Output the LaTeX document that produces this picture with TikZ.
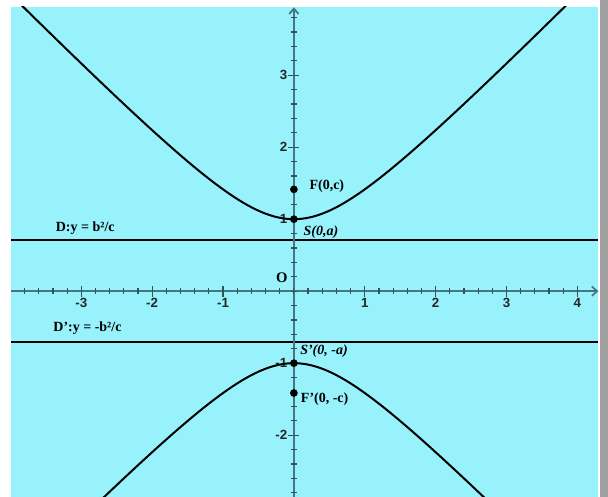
\documentclass[tikz,border=0pt]{standalone}
\usepackage{fontspec}
\setmainfont{Liberation Serif}
\newfontfamily\axfont{Liberation Sans}
\usetikzlibrary{arrows.meta}
\definecolor{bgcyan}{RGB}{152,242,252}
\definecolor{axcol}{RGB}{72,118,128}
\definecolor{barg}{RGB}{160,160,160}
\newcommand{\sq}{{\char"27}}
\begin{document}
\begin{tikzpicture}[x=53.145pt,y=54pt,
  curve/.style={line width=1.5pt,draw=black},
  dline/.style={line width=1.4pt,draw=black},
  axisline/.style={line width=1.3pt,draw=axcol,-{Straight Barb[length=4pt,width=7pt]}},
  tickline/.style={line width=0.9pt,draw=axcol!70!black},
  ticklbl/.style={font=\axfont\bfseries\fontsize{10}{11}\selectfont,text=black!85,inner sep=0pt},
  lbl/.style={font=\bfseries\fontsize{10.5}{12}\selectfont,inner sep=0pt},
  ilbl/.style={font=\bfseries\itshape\fontsize{10.5}{12}\selectfont,inner sep=0pt},
  dot/.style={circle,fill=black,inner sep=0pt,minimum size=5.8pt}]
\useasboundingbox (-4.1476,-2.8583) rectangle (4.4327,4.0444);
\fill[white] (-4.1476,-2.8583) rectangle (4.4327,4.0444);
\fill[bgcyan] (-3.9924,-2.8583) rectangle (4.2986,3.9472);
\fill[barg] (4.3198,-2.8583) rectangle (4.4327,4.0444);
% directrices
\coordinate (Dl) at (-3.9924,0.7071);
\coordinate (Dr) at (4.2986,0.7071);
\coordinate (Dpl) at (-3.9924,-0.7071);
\coordinate (Dpr) at (4.2986,-0.7071);
\draw[dline] (Dl) -- (Dr);
\draw[dline] (Dpl) -- (Dpr);
% axes
\coordinate (xl) at (-3.9924,0);
\coordinate (xr) at (4.2986,0);
\coordinate (yb) at (0,-2.8583);
\coordinate (yt) at (0,3.943);
\draw[axisline] (xl) -- (xr);
\draw[axisline] (yb) -- (yt);
% ticks
\foreach \i in {-19,...,20}{
  \draw[tickline] (\i/5,-0.042) -- (\i/5,0.042);
}
\foreach \i in {-3,-2,-1,1,2,3,4}{
  \draw[tickline] (\i,-0.076) -- (\i,0.076);
  \node[ticklbl] at (\i,-0.157) {\i};
}
\foreach \i in {-14,...,19}{
  \draw[tickline] (-0.042,\i/5) -- (0.042,\i/5);
}
\foreach \i in {-2,-1,1,2,3}{
  \draw[tickline] (-0.078,\i) -- (0.078,\i);
  \node[ticklbl,anchor=east] at (-0.09,\i) {\i};
}
\node[lbl,font=\bfseries\fontsize{11}{12}\selectfont] (O) at (-0.172,0.183) {O};
% hyperbola
\begin{scope}
\clip (-3.9924,-2.8583) rectangle (4.2986,3.9472);
\draw[curve] plot[domain=-3.95:3.95,samples=201,smooth] (\x,{sqrt(1+\x*\x)});
\draw[curve] plot[domain=-2.9:2.9,samples=161,smooth] (\x,{-sqrt(1+\x*\x)});
\end{scope}
% points
\node[dot] (F) at (0,1.4142) {};
\node[dot] (S) at (0,1) {};
\node[dot] (Sp) at (0,-1) {};
\node[dot] (Fp) at (0,-1.4142) {};
% labels
\node[lbl,anchor=west] (Flbl) at (0.217,1.461) {F(0,c)};
\node[ilbl,anchor=west] (Slbl) at (0.133,0.818) {S(0,a)};
\node[ilbl,anchor=west] (Splbl) at (0.086,-0.826) {S\sq(0, -a)};
\node[lbl,anchor=west] (Fplbl) at (0.096,-1.501) {F\sq(0, -c)};
\node[lbl] (Dlbl) at (-2.945,0.874) {D:y = b²/c};
\node[lbl] (Dplbl) at (-2.913,-0.515) {D\sq:y = -b²/c};
\end{tikzpicture}
\end{document}
